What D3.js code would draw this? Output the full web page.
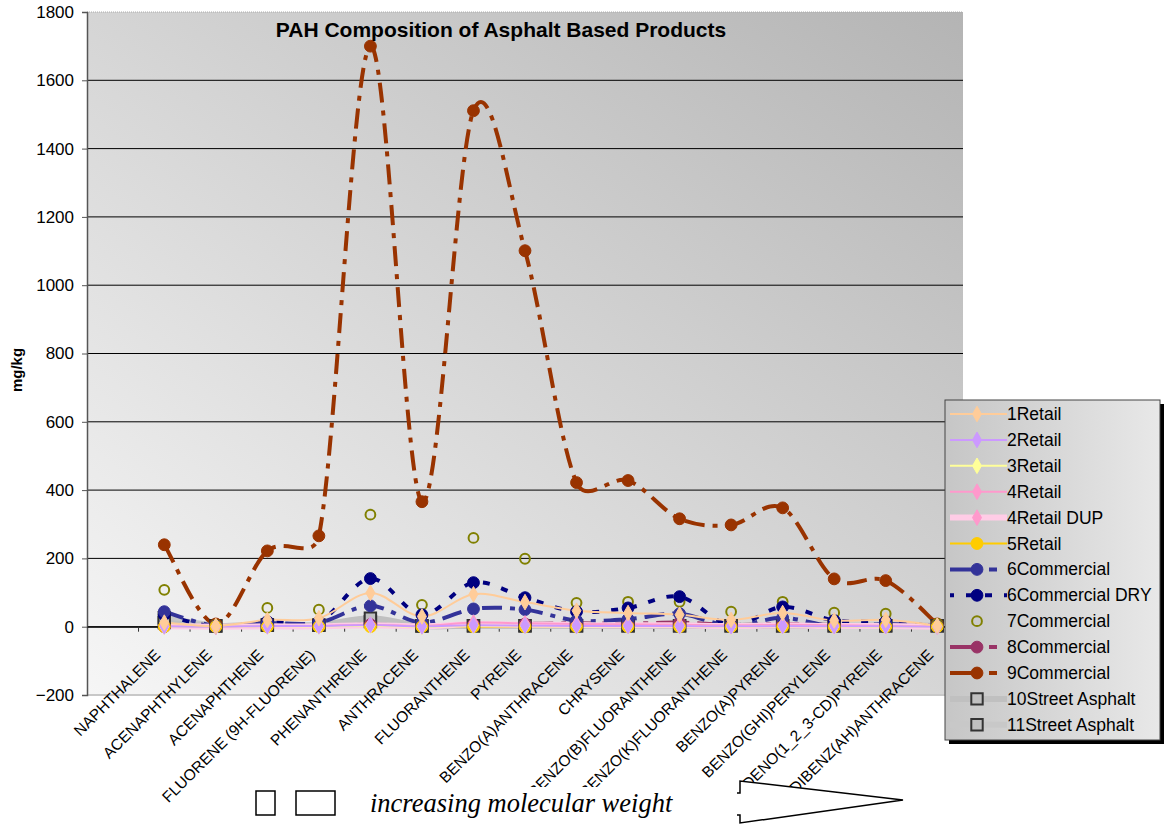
<!DOCTYPE html>
<html><head><meta charset="utf-8">
<script src="https://cdn.jsdelivr.net/npm/d3@7"></script>
<style>body{margin:0;background:#fff;}svg{display:block;font-family:Arial,"Liberation Sans",sans-serif;}</style>
</head><body>
<svg id="chart" width="1164" height="825"></svg>
<script>
// ---- data ----
const categories = ["", "NAPHTHALENE","ACENAPHTHYLENE","ACENAPHTHENE","FLUORENE (9H-FLUORENE)","PHENANTHRENE","ANTHRACENE","FLUORANTHENE","PYRENE","BENZO(A)ANTHRACENE","CHRYSENE","BENZO(B)FLUORANTHENE","BENZO(K)FLUORANTHENE","BENZO(A)PYRENE","BENZO(GHI)PERYLENE","INDENO(1_2_3-CD)PYRENE","DIBENZ(AH)ANTHRACENE"];
const yTicks = [-200,0,200,400,600,800,1000,1200,1400,1600,1800];
const seriesNames = ["1Retail","2Retail","3Retail","4Retail","4Retail DUP","5Retail","6Commercial","6Commercial DRY","7Commercial","8Commercial","9Commercial","10Street Asphalt","11Street Asphalt"];
const retail1   = [12, 2, 20, 25, 99, 30, 95, 72, 47, 40, 35, 20, 40, 18, 20, 3];
const retail2   = [1, 0, 2, 2, 5, 1, 4, 3, 2, 2, 2, 1, 2, 1, 1, 0];
const retail3   = [0, 0, 1, 1, 3, 0, 3, 2, 1, 1, 1, 0, 1, 0, 0, 0];
const retail4   = [2, 0, 2, 2, 6, 2, 12, 10, 8, 7, 6, 4, 6, 4, 3, 1];
const retail4d  = [1, 0, 1, 1, 4, 1, 7, 6, 5, 4, 4, 2, 4, 2, 2, 0];
const retail5   = [0, 0, 0, 0, 0, 0, 0, 0, 0, 0, 0, 0, 0, 0, 0, 0];
const comm6     = [44, 2, 10, 12, 61, 12, 52, 50, 18, 22, 38, 2, 26, 0, 8, 2];
const comm6dry  = [35, 0, 15, 14, 141, 35, 129, 85, 44, 55, 88, 3, 58, 18, 15, 0];
const comm7     = [108, 5, 55, 50, 328, 64, 260, 199, 70, 73, 73, 44, 73, 41, 38, 8];
const comm8     = [0, 2, 3, 2, 6, 3, 6, 8, 10, 9, 12, 5, 8, 5, 3, 2];
const comm9     = [240, 8, 222, 266, 1700, 366, 1511, 1101, 422, 428, 316, 298, 348, 140, 135, 8];
const street10  = [12, 2, 6, 5, 25, 2, 3, 3, 3, 3, 3, 3, 3, 3, 3, 3];
const street11  = [26, 3, 4, 4, 15, 3, 3, 3, 3, 3, 3, 3, 3, 3, 3, 3];
const seriesValues = [retail1, retail2, retail3, retail4, retail4d, retail5, comm6, comm6dry, comm7, comm8, comm9, street10, street11];

// ---- styles ----
const styles = [
  {color:"#ffcc99", w:2, dash:null, marker:"diamond", mfill:"#ffcc99", mstroke:"#ffcc99", line:true},
  {color:"#cc99ff", w:2, dash:null, marker:"diamond", mfill:"#cc99ff", mstroke:"#cc99ff", line:true},
  {color:"#ffff99", w:2, dash:null, marker:"diamond", mfill:"#ffff99", mstroke:"#ffff99", line:true},
  {color:"#ff99cc", w:2, dash:null, marker:"diamond", mfill:"#ff99cc", mstroke:"#ff99cc", line:true},
  {color:"#ffcce6", w:6, dash:null, marker:"diamond", mfill:"#ff99cc", mstroke:"#ff99cc", line:true},
  {color:"#ffcc00", w:2, dash:null, marker:"circle", mfill:"#ffcc00", mstroke:"#ffcc00", line:true},
  {color:"#333399", w:4, dash:"20,8,5,8", marker:"circle", mfill:"#333399", mstroke:"#333399", line:true},
  {color:"#000080", w:4, dash:"7,12", marker:"circle", mfill:"#000080", mstroke:"#000080", line:true},
  {color:"#808000", w:2, dash:null, marker:"ring", mfill:"none", mstroke:"#808000", line:false},
  {color:"#993366", w:4, dash:"20,8,5,8", marker:"circle", mfill:"#993366", mstroke:"#993366", line:true},
  {color:"#993300", w:4, dash:"20,8,5,8", marker:"circle", mfill:"#993300", mstroke:"#993300", line:true},
  {color:"#c0c0c0", w:6, dash:null, marker:"square", mfill:"#c0c0c0", mstroke:"#333333", line:true},
  {color:"#c8c8c8", w:6, dash:null, marker:"square", mfill:"#c0c0c0", mstroke:"#333333", line:true}
];

const svg = d3.select("#chart");
const defs = svg.append("defs");
const bg = defs.append("linearGradient").attr("id","bgGrad").attr("x1","0").attr("y1","1").attr("x2","1").attr("y2","0");
bg.append("stop").attr("offset","0%").attr("stop-color","#f6f6f6");
bg.append("stop").attr("offset","100%").attr("stop-color","#b4b4b4");
const lg = defs.append("linearGradient").attr("id","legGrad").attr("x1","0").attr("y1","0").attr("x2","1").attr("y2","0");
lg.append("stop").attr("offset","0%").attr("stop-color","#c6c6c6");
lg.append("stop").attr("offset","100%").attr("stop-color","#e8e8e8");

const pLeft = 87, pRight = 963, pTop = 12, pBottom = 695;
const x = d3.scaleBand().domain(categories.map((c,i)=>i)).range([pLeft,pRight]).paddingInner(0).paddingOuter(0);
const y = d3.scaleLinear().domain([-200,1800]).range([pBottom, pTop]);
const cx = i => x(i) + x.bandwidth()/2;

// plot background
svg.append("rect").attr("x",pLeft).attr("y",pTop).attr("width",pRight-pLeft).attr("height",pBottom-pTop).attr("fill","url(#bgGrad)");

// gridlines
svg.append("g").selectAll("line").data(yTicks.filter(t=>t>-200 && t<1800)).join("line")
  .attr("x1",pLeft).attr("x2",pRight).attr("y1",d=>y(d)).attr("y2",d=>y(d))
  .attr("stroke","#000").attr("stroke-width",1);
svg.append("line").attr("x1",pLeft).attr("x2",pRight).attr("y1",y(1800)).attr("y2",y(1800)).attr("stroke","#aaa").attr("stroke-dasharray","1,1");
svg.append("line").attr("x1",pLeft).attr("x2",pRight).attr("y1",y(-200)).attr("y2",y(-200)).attr("stroke","#c8c8c8").attr("stroke-width",2);

// y axis
const yAxis = d3.axisLeft(y).tickValues(yTicks).tickSize(5).tickPadding(8).tickFormat(d3.format("d"));
const gy = svg.append("g").attr("transform",`translate(${pLeft},0)`).call(yAxis);
gy.select(".domain").attr("stroke","#555").attr("stroke-width",1.5);
gy.selectAll(".tick line").attr("stroke","#555");
gy.selectAll("text").attr("font-size",17).attr("fill","#000").attr("font-family","Arial, 'Liberation Sans', sans-serif");

// x axis at zero
const xAxis = d3.axisBottom(x).tickSize(0).tickFormat(()=> "");
const gx = svg.append("g").attr("transform",`translate(0,${y(0)})`).call(xAxis);
gx.select(".domain").attr("stroke","#000").attr("stroke-width",1.2);
svg.append("g").selectAll("line").data(categories.map((c,i)=>i).slice(1)).join("line")
  .attr("x1",d=>x(d)).attr("x2",d=>x(d)).attr("y1",y(0)).attr("y2",y(0)+5).attr("stroke","#333").attr("stroke-width",1);

// x labels
svg.append("g").selectAll("text").data(categories.map((c,i)=>({c,i})).filter(d=>d.c)).join("text")
  .attr("transform",d=>`translate(${cx(d.i)-3},${y(-200)-39}) rotate(-45)`)
  .attr("text-anchor","end").attr("font-size",15.5).attr("fill","#000").text(d=>d.c);

// Excel-style smoothed line (Bezier, tension 1/6, control offset capped at half segment)
function smoothPath(p) {
  const path = d3.path();
  if (!p.length) return "";
  path.moveTo(p[0][0], p[0][1]);
  const dist = (a,b)=>Math.hypot(b[0]-a[0], b[1]-a[1]);
  for (let i = 0; i < p.length-1; i++) {
    const P0 = p[Math.max(i-1,0)], P1 = p[i], P2 = p[i+1], P3 = p[Math.min(i+2,p.length-1)];
    const d12 = dist(P1,P2), d02 = dist(P0,P2), d13 = dist(P1,P3);
    const f1 = (d02/6 < d12/2) ? 1/6 : (d02 > 0 ? d12/d02/2 : 0);
    const f2 = (d13/6 < d12/2) ? 1/6 : (d13 > 0 ? d12/d13/2 : 0);
    path.bezierCurveTo(P1[0] + f1*(P2[0]-P0[0]), P1[1] + f1*(P2[1]-P0[1]),
                       P2[0] - f2*(P3[0]-P1[0]), P2[1] - f2*(P3[1]-P1[1]),
                       P2[0], P2[1]);
  }
  return path.toString();
}

// series
const sym = {diamond:d3.symbolDiamond, circle:d3.symbolCircle, square:d3.symbolSquare, ring:d3.symbolCircle};
const symSize = {diamond:70, circle:110, square:130, ring:75};
const drawOrder = [12,11,10,9,8,7,6,5,4,3,2,1,0];
const seriesG = svg.append("g");
drawOrder.forEach(k=>{
  const st = styles[k];
  const pts = seriesValues[k].map((v,j)=>[cx(j+1), y(v)]);
  if (st.line) {
    seriesG.append("path").attr("d",smoothPath(pts)).attr("fill","none")
      .attr("stroke",st.color).attr("stroke-width",st.w).attr("stroke-dasharray",st.dash);
  }
});
drawOrder.forEach(k=>{
  const st = styles[k];
  const pts = seriesValues[k].map((v,j)=>({i:j+1, v}));
  seriesG.append("g").selectAll("path").data(pts).join("path")
    .attr("transform",d=>`translate(${cx(d.i)},${y(d.v)})`)
    .attr("d",d3.symbol().type(sym[st.marker]).size(symSize[st.marker]))
    .attr("fill",st.mfill).attr("stroke",st.mstroke).attr("stroke-width",st.marker==="ring"?2:(st.marker==="square"?2:1));
});

// title
svg.append("text").attr("x",501).attr("y",37).attr("text-anchor","middle").attr("font-size",21).attr("font-weight","bold").text("PAH Composition of Asphalt Based Products");
// y label
svg.append("text").attr("transform","translate(22,370) rotate(-90)").attr("text-anchor","middle").attr("font-size",15).attr("font-weight","bold").text("mg/kg");

// legend
const lx = 945, ly = 400, lw = 215, lh = 340;
svg.append("rect").attr("x",lx+4).attr("y",ly+4).attr("width",lw).attr("height",lh).attr("fill","#000");
svg.append("rect").attr("x",lx).attr("y",ly).attr("width",lw).attr("height",lh).attr("fill","url(#legGrad)").attr("stroke","#444").attr("stroke-width",1);
const leg = svg.append("g");
seriesNames.forEach((name,k)=>{
  const st = styles[k];
  const yy = ly + 14 + k*25.9;
  if (st.line) {
    leg.append("line").attr("x1",lx+5).attr("x2",lx+62).attr("y1",yy).attr("y2",yy)
      .attr("stroke",st.color).attr("stroke-width",st.w).attr("stroke-dasharray",st.dash ? (k===7?"7,12":"30,9,8,20") : null)
      .attr("stroke-dashoffset", k===7 ? 3 : 0);
  }
  leg.append("path").attr("transform",`translate(${lx+32},${yy})`)
    .attr("d",d3.symbol().type(sym[st.marker]).size(symSize[st.marker]))
    .attr("fill",st.mfill).attr("stroke",st.mstroke).attr("stroke-width",st.marker==="ring"?2:(st.marker==="square"?2:1));
  leg.append("text").attr("x",lx+62).attr("y",yy+6).attr("font-size",17.5).attr("fill","#000").text(name);
});

// bottom annotation (pasted text box and arrow cover part of the labels)
svg.append("rect").attr("x",480).attr("y",787).attr("width",220).attr("height",38).attr("fill","#fff");
svg.append("rect").attr("x",731).attr("y",781).attr("width",10).attr("height",44).attr("fill","#fff");
svg.append("path").attr("d","M737,793 L740,793 L740,781 L903,800 L740,823 L740,815 L737,815 Z").attr("fill","#fff");
const ann = svg.append("g").attr("fill","none").attr("stroke","#000").attr("stroke-width",1.5);
ann.append("rect").attr("x",256).attr("y",791).attr("width",19).attr("height",24);
ann.append("rect").attr("x",296).attr("y",791).attr("width",39).attr("height",24);
svg.append("text").attr("x",370).attr("y",812).attr("font-family","'Liberation Serif','Times New Roman',serif").attr("font-style","italic").attr("font-size",26.5).text("increasing molecular weight");
ann.append("path").attr("d","M737,793 L740,793 L740,781 L903,800 L740,823 L740,815 L737,815");
</script>
</body></html>
